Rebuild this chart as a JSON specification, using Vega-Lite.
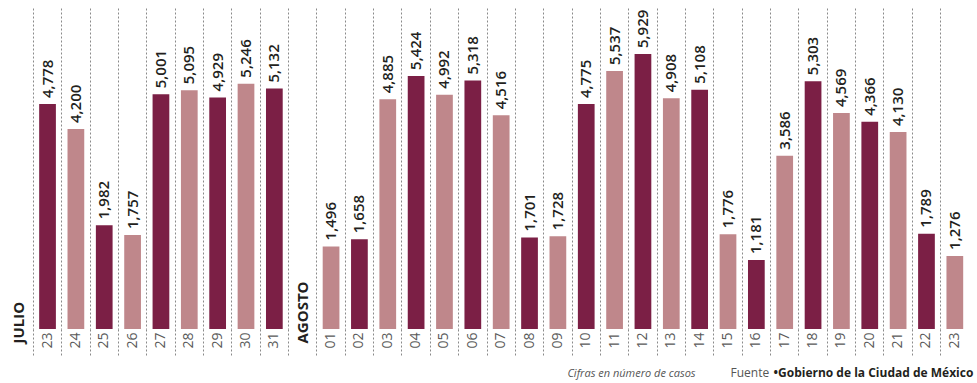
{
  "$schema": "https://vega.github.io/schema/vega-lite/v6.json",
  "width": 964,
  "height": 321,
  "autosize": {"type": "none"},
  "padding": {"left": 5, "top": 8, "right": 8, "bottom": 54},
  "background": "white",
  "config": {"view": {"stroke": null}, "font": "Open Sans"},
  "data": {
    "values": [
      {"clave": "jul23", "casos": 4778, "grupo": "a"},
      {"clave": "jul24", "casos": 4200, "grupo": "b"},
      {"clave": "jul25", "casos": 1982, "grupo": "a"},
      {"clave": "jul26", "casos": 1757, "grupo": "b"},
      {"clave": "jul27", "casos": 5001, "grupo": "a"},
      {"clave": "jul28", "casos": 5095, "grupo": "b"},
      {"clave": "jul29", "casos": 4929, "grupo": "a"},
      {"clave": "jul30", "casos": 5246, "grupo": "b"},
      {"clave": "jul31", "casos": 5132, "grupo": "a"},
      {"clave": "ago01", "casos": 1496, "grupo": "b"},
      {"clave": "ago02", "casos": 1658, "grupo": "a"},
      {"clave": "ago03", "casos": 4885, "grupo": "b"},
      {"clave": "ago04", "casos": 5424, "grupo": "a"},
      {"clave": "ago05", "casos": 4992, "grupo": "b"},
      {"clave": "ago06", "casos": 5318, "grupo": "a"},
      {"clave": "ago07", "casos": 4516, "grupo": "b"},
      {"clave": "ago08", "casos": 1701, "grupo": "a"},
      {"clave": "ago09", "casos": 1728, "grupo": "b"},
      {"clave": "ago10", "casos": 4775, "grupo": "a"},
      {"clave": "ago11", "casos": 5537, "grupo": "b"},
      {"clave": "ago12", "casos": 5929, "grupo": "a"},
      {"clave": "ago13", "casos": 4908, "grupo": "b"},
      {"clave": "ago14", "casos": 5108, "grupo": "a"},
      {"clave": "ago15", "casos": 1776, "grupo": "b"},
      {"clave": "ago16", "casos": 1181, "grupo": "a"},
      {"clave": "ago17", "casos": 3586, "grupo": "b"},
      {"clave": "ago18", "casos": 5303, "grupo": "a"},
      {"clave": "ago19", "casos": 4569, "grupo": "b"},
      {"clave": "ago20", "casos": 4366, "grupo": "a"},
      {"clave": "ago21", "casos": 4130, "grupo": "b"},
      {"clave": "ago22", "casos": 1789, "grupo": "a"},
      {"clave": "ago23", "casos": 1276, "grupo": "b"}
    ]
  },
  "encoding": {
    "x": {
      "field": "clave",
      "type": "nominal",
      "scale": {
        "domain": ["JULIO", "jul23", "jul24", "jul25", "jul26", "jul27", "jul28", "jul29", "jul30", "jul31",
                   "AGOSTO", "ago01", "ago02", "ago03", "ago04", "ago05", "ago06", "ago07", "ago08", "ago09", "ago10",
                   "ago11", "ago12", "ago13", "ago14", "ago15", "ago16", "ago17", "ago18", "ago19", "ago20",
                   "ago21", "ago22", "ago23"],
        "paddingInner": 0,
        "paddingOuter": 0
      },
      "axis": {
        "title": "Cifras en número de casos",
        "titleFont": "Open Sans",
        "titleFontStyle": "italic",
        "titleFontWeight": "normal",
        "titleFontSize": 11,
        "titleColor": "#555555",
        "titleX": 626,
        "titleY": 47,
        "titleAlign": "center",
        "titleBaseline": "alphabetic",
        "domain": false,
        "grid": true,
        "gridDash": [2, 2],
        "gridColor": "#8a8a8a",
        "gridWidth": 1,
        "gridOpacity": {"condition": {"test": "datum.value === 'JULIO'", "value": 0}, "value": 1},
        "ticks": true,
        "tickSize": 26,
        "tickDash": [2, 2],
        "tickColor": "#8a8a8a",
        "tickWidth": 1,
        "tickOpacity": {"condition": {"test": "datum.value === 'JULIO'", "value": 0}, "value": 1},
        "bandPosition": 0,
        "labelExpr": "datum.value === 'JULIO' || datum.value === 'AGOSTO' ? datum.value : substring(datum.value, 3)",
        "labelAngle": 270,
        "labelFont": "Open Sans",
        "labelFontSize": {"condition": {"test": "datum.value === 'JULIO' || datum.value === 'AGOSTO'", "value": 15}, "value": 14},
        "labelFontWeight": {"condition": {"test": "datum.value === 'JULIO' || datum.value === 'AGOSTO'", "value": "bold"}, "value": "normal"},
        "labelColor": {"condition": {"test": "datum.value === 'JULIO' || datum.value === 'AGOSTO'", "value": "#231f20"}, "value": "#5a5a5a"},
        "labelAlign": {"condition": {"test": "datum.value === 'JULIO' || datum.value === 'AGOSTO'", "value": "left"}, "value": "right"},
        "labelBaseline": "middle",
        "labelPadding": {"condition": {"test": "datum.value === 'JULIO' || datum.value === 'AGOSTO'", "value": -12}, "value": -23},
        "labelOverlap": false,
        "labelBound": false,
        "labelFlush": false
      }
    }
  },
  "layer": [
    {
      "mark": {"type": "bar", "width": {"band": 0.59}},
      "encoding": {
        "y": {
          "field": "casos",
          "type": "quantitative",
          "scale": {"domain": [-408, 6990], "nice": false, "zero": false},
          "axis": {
            "orient": "left",
            "title": "Fuente",
            "domain": false,
            "ticks": false,
            "labels": false,
            "grid": false,
            "titleAngle": 0,
            "titleX": 725,
            "titleY": 368,
            "titleAlign": "left",
            "titleBaseline": "alphabetic",
            "titleFont": "Open Sans",
            "titleFontWeight": "normal",
            "titleFontSize": 12,
            "titleColor": "#555555"
          }
        },
        "y2": {"datum": -408},
        "color": {
          "field": "grupo",
          "type": "nominal",
          "scale": {"domain": ["a", "b"], "range": ["#7b1f45", "#bf878b"]},
          "legend": null
        }
      }
    },
    {
      "mark": {"type": "text", "angle": 270, "align": "left", "baseline": "middle", "dx": 6, "font": "Open Sans", "fontSize": 15, "fontWeight": 600, "color": "#231f20"},
      "encoding": {
        "y": {
          "field": "casos",
          "type": "quantitative",
          "scale": {"domain": [-408, 6990], "nice": false, "zero": false},
          "axis": {
            "orient": "right",
            "title": "•Gobierno de la Ciudad de México",
            "domain": false,
            "ticks": false,
            "labels": false,
            "grid": false,
            "titleAngle": 0,
            "titleX": -196,
            "titleY": 368,
            "titleAlign": "left",
            "titleBaseline": "alphabetic",
            "titleFont": "Open Sans",
            "titleFontWeight": "bold",
            "titleFontSize": 12,
            "titleColor": "#231f20"
          }
        },
        "text": {"field": "casos", "type": "quantitative", "format": ",d"}
      }
    }
  ],
  "resolve": {"scale": {"y": "independent"}}
}
